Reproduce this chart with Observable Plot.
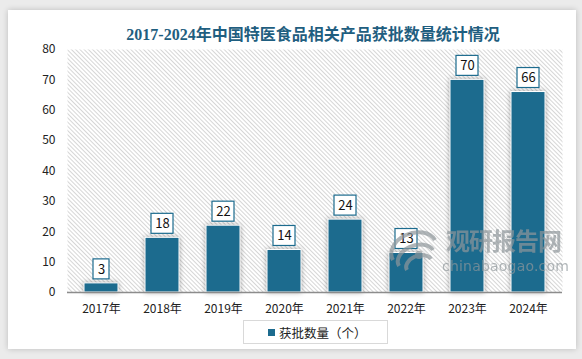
<!DOCTYPE html>
<html><head><meta charset="utf-8">
<script src="https://cdn.jsdelivr.net/npm/d3@7"></script>
<script src="https://cdn.jsdelivr.net/npm/@observablehq/plot@0.6"></script>
<style>
body{margin:0;background:#fff;}
#wrap{position:relative;width:582px;height:359px;background:#ebebeb;overflow:hidden;font-family:"Noto Sans CJK SC",sans-serif;}
#card{position:absolute;left:8px;top:10px;width:568px;height:339px;background:#fff;box-shadow:0 0 6px rgba(0,0,0,0.2);}
#title{position:absolute;left:0;width:626px;top:21px;text-align:center;font:bold 16px "Liberation Serif","Noto Sans CJK SC",serif;color:#1f5e80;white-space:nowrap;}
#chart{position:absolute;left:0;top:0;}
.bar rect{filter:drop-shadow(0 0 2.5px rgba(0,0,0,0.35));}
#legend{position:absolute;left:243px;top:320px;width:143px;height:22px;border:1px solid #d9d9d9;background:#fff;font-size:12.5px;color:#222;}
#legend .sw{position:absolute;left:24px;top:8px;width:7px;height:7px;background:#1c6b8e;}
#legend .lb{position:absolute;left:35px;top:2px;white-space:nowrap;}
#wm{position:absolute;left:385px;top:228px;opacity:0.7;pointer-events:none;}
#wm .t1{position:absolute;left:61px;top:0px;font:bold 24px "Noto Sans CJK SC",sans-serif;line-height:1;color:#8f979b;white-space:nowrap;letter-spacing:-1px;}
#wm .t2{position:absolute;left:57px;top:31px;font:14px "DejaVu Sans",sans-serif;line-height:1;color:#8f979b;white-space:nowrap;letter-spacing:0.2px;}
</style>
</head><body>
<div id="wrap">
  <div id="card"></div>
  <div id="chart"></div>
  <div id="title">2017-2024年中国特医食品相关产品获批数量统计情况</div>
  <div id="wm">
    <svg width="60" height="50" style="position:absolute;left:0;top:0">
      <path d="M8,32 A22,16 -20 0 1 50,12" fill="none" stroke="#8f979b" stroke-width="4"/>
      <path d="M14,38 A18,12 -20 0 1 48,22" fill="none" stroke="#8f979b" stroke-width="4"/>
      <path d="M22,42 A12,8 -20 0 1 46,31" fill="none" stroke="#8f979b" stroke-width="4"/>
      <circle cx="34" cy="27" r="4" fill="#8f979b"/>
    </svg>
    <div class="t1">观研报告网</div>
    <div class="t2">chinabaogao.com</div>
  </div>
  <div id="legend"><div class="sw"></div><div class="lb">获批数量（个）</div></div>
</div>
<script>
const years = ["2017年","2018年","2019年","2020年","2021年","2022年","2023年","2024年"];
const counts = [3,18,22,14,24,13,70,66];
const yTicks = [0,10,20,30,40,50,60,70,80];
const seriesName = "获批数量（个）";
const barColor = "#1c6b8e";

const data = years.map((y,i)=>({year:y,count:counts[i]}));
const oneDigit = data.filter(d=>String(d.count).length===1);
const twoDigit = data.filter(d=>String(d.count).length===2);

const plot = Plot.plot({
  width:582, height:320,
  marginLeft:67, marginRight:20, marginTop:49, marginBottom:28,
  style:{fontFamily:'"Noto Sans CJK SC", sans-serif', fontSize:"12px", color:"#222", background:"transparent"},
  x:{domain:years, paddingInner:0.45, paddingOuter:0.225, label:null, tickSize:0, tickPadding:12},
  y:{domain:[0,80], ticks:yTicks, label:null, tickSize:0, tickPadding:12},
  marks:[
    Plot.frame({fill:"url(#hatch)", stroke:"none"}),
    Plot.barY(data,{x:"year",y:"count",fill:barColor,stroke:"#fff",strokeWidth:1,className:"bar"}),
    Plot.ruleY([0],{stroke:"#8c8c8c",strokeWidth:1.5}),
    Plot.barY(oneDigit,{x:"year",y1:"count",y2:"count",insetTop:-24,insetBottom:4,insetLeft:9,insetRight:9,fill:"#fff",stroke:barColor,strokeWidth:1.2}),
    Plot.barY(twoDigit,{x:"year",y1:"count",y2:"count",insetTop:-24,insetBottom:4,insetLeft:6,insetRight:6,fill:"#fff",stroke:barColor,strokeWidth:1.2}),
    Plot.text(data,{x:"year",y:"count",text:d=>String(d.count),dy:-14,fontSize:13,fill:"#111"})
  ]
});
const defs = d3.select(plot).insert("defs",":first-child");
const pat = defs.append("pattern").attr("id","hatch").attr("patternUnits","userSpaceOnUse")
  .attr("width",3).attr("height",3).attr("patternTransform","rotate(-45)");
pat.append("rect").attr("width",3).attr("height",3).attr("fill","#fff");
pat.append("line").attr("x1",0.5).attr("y1",0).attr("x2",0.5).attr("y2",3).attr("stroke","#d6d6d6").attr("stroke-width",1);
document.getElementById("chart").appendChild(plot);
</script>
</body></html>
